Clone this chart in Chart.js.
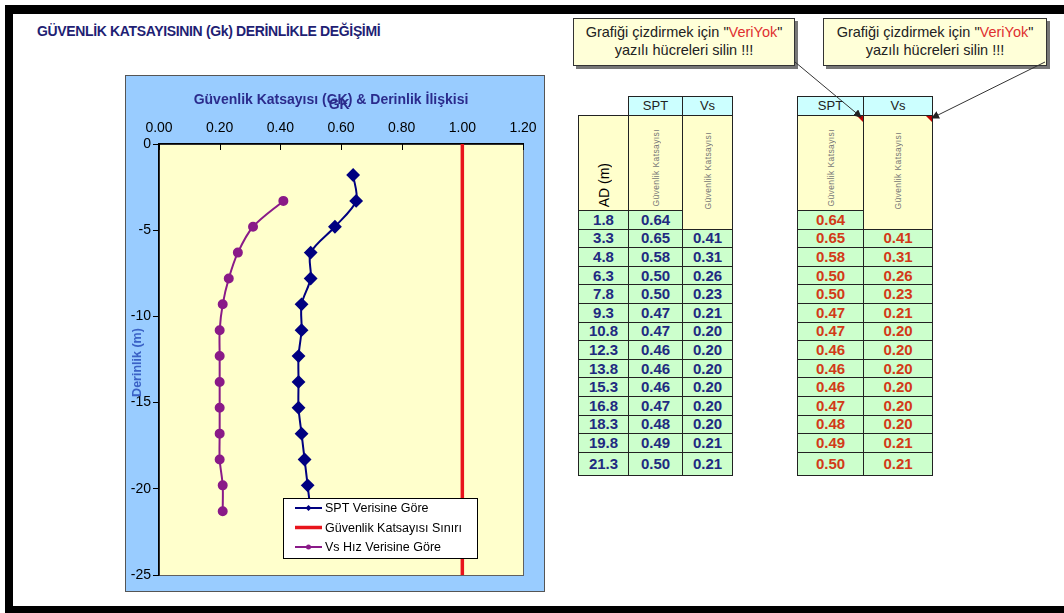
<!DOCTYPE html>
<html lang="tr">
<head>
<meta charset="UTF-8">
<title>Güvenlik Katsayısı</title>
<script src="https://cdn.jsdelivr.net/npm/chart.js"></script>
<style>
    body { margin: 0; width: 1064px; height: 613px; background: #ffffff; position: relative; overflow: hidden; font-family: "Liberation Sans", Arial, sans-serif; }
    #frame { position: absolute; left: 5px; top: 5px; width: 1100px; height: 592px; border-top: 9px solid #000; border-left: 8px solid #000; border-bottom: 8px solid #000; }
    #pageTitle { position: absolute; left: 37px; top: 23px; font-size: 14px; font-weight: bold; color: #1f1f74; letter-spacing: -0.35px; white-space: nowrap; }
    #chartBox { position: absolute; left: 125px; top: 75px; width: 420px; height: 517px; }
    .note { position: absolute; top: 18px; height: 42px; background: #ffffd8; border: 1px solid #333; box-shadow: 3px 3px 0 #777; font-size: 14.5px; line-height: 18px; text-align: center; color: #222; padding-top: 4px; }
    .note span { color: #e03030; }
    table { position: absolute; border-collapse: collapse; font-weight: bold; font-size: 15px; }
    td { border: 1px solid #222; padding: 0; text-align: center; height: 17.6px; line-height: 16px; }
    td.hd { background: #ccffff; color: #222; font-weight: normal; font-size: 13px; height: 18px; }
    td.blank { border: none; background: transparent; }
    td.yl { background: #ffffcc; vertical-align: bottom; position: relative; }
    td.dat { background: #ccffcc; }
    .rot { writing-mode: vertical-rl; transform: rotate(180deg); display: inline-block; white-space: nowrap; }
    .small { font-size: 8.5px; font-weight: normal; color: #777; padding-bottom: 5px; letter-spacing: 0.4px; }
    .tri { position: absolute; right: 0; top: 0; width: 0; height: 0; border-top: 6px solid #c00000; border-left: 6px solid transparent; }
    #leftTable td.dat { color: #1f2a80; }
    #rightTable td.dat { color: #d23a18; }
    svg { position: absolute; left: 0; top: 0; }
</style>
</head>
<body>
<div id="frame"></div>
<div id="pageTitle">GÜVENLİK KATSAYISININ (Gk) DERİNLİKLE DEĞİŞİMİ</div>
<div id="chartBox"><canvas id="gkChart" width="420" height="517"></canvas></div>

<div class="note" style="left:573px; width:220px;">Grafiği çizdirmek için "<span>VeriYok</span>"<br>yazılı hücreleri silin !!!</div>
<div class="note" style="left:823px; width:222px;">Grafiği çizdirmek için "<span>VeriYok</span>"<br>yazılı hücreleri silin !!!</div>

<table id="leftTable" style="left:578px; top:96px;"></table>
<table id="rightTable" style="left:797px; top:96px;"></table>

<svg width="1064" height="613">
    <defs>
        <marker id="arr" markerWidth="8" markerHeight="8" refX="7" refY="4" orient="auto">
            <path d="M0,0 L8,4 L0,8 z" fill="#222"></path>
        </marker>
    </defs>
    <line x1="795" y1="62" x2="861" y2="117" stroke="#333" stroke-width="1" marker-end="url(#arr)"></line>
    <line x1="1045" y1="62" x2="932" y2="118" stroke="#333" stroke-width="1" marker-end="url(#arr)"></line>
</svg>

<script>
    // values read from the sheet
    const depths = [1.8, 3.3, 4.8, 6.3, 7.8, 9.3, 10.8, 12.3, 13.8, 15.3, 16.8, 18.3, 19.8, 21.3];
    const sptGk = [0.64, 0.65, 0.58, 0.50, 0.50, 0.47, 0.47, 0.46, 0.46, 0.46, 0.47, 0.48, 0.49, 0.50];
    const vsGk = [null, 0.41, 0.31, 0.26, 0.23, 0.21, 0.20, 0.20, 0.20, 0.20, 0.20, 0.20, 0.21, 0.21];
    const limitGk = 1.0;
    const limitDepths = [0, 25];
    const seriesNames = ['SPT Verisine Göre', 'Güvenlik Katsayısı Sınırı', 'Vs Hız Verisine Göre'];
    const chartTitle = 'Güvenlik Katsayısı (GK) & Derinlik İlişkisi';
    const xTitle = 'GK';
    const yTitle = 'Derinlik (m)';

    // tables
    function buildTable(id, withDepth) {
        const t = document.getElementById(id);
        const ws = withDepth ? [50, 54, 50] : [66, 69];
        let html = '<colgroup>' + ws.map(w => `<col style="width:${w}px">`).join('') + '</colgroup>';
        html += '<tr>' + (withDepth ? '<td class="blank"></td>' : '') + '<td class="hd">SPT</td><td class="hd">Vs</td></tr>';
        html += '<tr style="height:95px">';
        if (withDepth) html += '<td class="yl"><span class="rot" style="font-size:14px;font-weight:normal;padding-bottom:6px;">AD (m)</span></td>';
        html += '<td class="yl">' + (withDepth ? '' : '<div class="tri"></div>') + '<span class="rot small">Güvenlik Katsayısı</span></td>';
        html += '<td class="yl" rowspan="2" style="vertical-align:middle">' + (withDepth ? '' : '<div class="tri"></div>') + '<span class="rot small" style="padding-bottom:0">Güvenlik Katsayısı</span></td></tr>';
        depths.forEach((d, i) => {
            const h = i === depths.length - 1 ? 'style="height:23px"' : '';
            html += `<tr ${h}>`;
            if (withDepth) html += `<td class="dat">${d.toFixed(1)}</td>`;
            html += `<td class="dat">${sptGk[i].toFixed(2)}</td>`;
            if (i > 0) html += `<td class="dat">${vsGk[i].toFixed(2)}</td>`;
            html += '</tr>';
        });
        t.innerHTML = html;
    }
    buildTable('leftTable', true);
    buildTable('rightTable', false);

    const sptPoints = depths.map((d, i) => ({ x: sptGk[i], y: -d }));
    const vsPoints = depths.map((d, i) => ({ x: vsGk[i], y: -d })).filter(p => p.x !== null);
    const limitPoints = limitDepths.map(d => ({ x: limitGk, y: -d }));

    const excelLook = {
        id: 'excelLook',
        beforeDraw(chart) {
            const ctx = chart.ctx;
            const a = chart.chartArea;
            ctx.save();
            ctx.fillStyle = '#99ccff';
            ctx.fillRect(0, 0, chart.width, chart.height);
            ctx.strokeStyle = '#555';
            ctx.lineWidth = 1;
            ctx.strokeRect(0.5, 0.5, chart.width - 1, chart.height - 1);
            ctx.fillStyle = '#ffffcc';
            ctx.fillRect(a.left, a.top, a.right - a.left, a.bottom - a.top);
            ctx.strokeStyle = '#606060';
            ctx.strokeRect(a.left + 0.5, a.top + 0.5, a.right - a.left, a.bottom - a.top);
            ctx.restore();
        },
        beforeDatasetsDraw(chart) {
            // inside tick marks on the top axis
            const ctx = chart.ctx;
            const xs = chart.scales.x;
            ctx.save();
            ctx.strokeStyle = '#000';
            ctx.lineWidth = 1;
            xs.ticks.forEach(t => {
                const px = Math.round(xs.getPixelForValue(t.value)) + 0.5;
                ctx.beginPath();
                ctx.moveTo(px, chart.chartArea.top);
                ctx.lineTo(px, chart.chartArea.top + 6);
                ctx.stroke();
            });
            ctx.restore();
        },
        afterDraw(chart) {
            const ctx = chart.ctx;
            const a = chart.chartArea;
            ctx.save();
            // chart title and the overlapping axis title
            ctx.font = 'bold 14px "Liberation Sans", Arial, sans-serif';
            ctx.fillStyle = '#2b2b8c';
            ctx.textBaseline = 'middle';
            ctx.textAlign = 'left';
            const tw = ctx.measureText(chartTitle).width;
            const tx = 206 - tw / 2;
            ctx.fillText(chartTitle, tx, 25);
            const pre = ctx.measureText('Güvenlik Katsayısı (').width;
            ctx.fillText(xTitle, tx + pre + 2, 30);
            // y axis title
            ctx.translate(13, (a.top + a.bottom) / 2 + 3);
            ctx.rotate(-Math.PI / 2);
            ctx.textAlign = 'center';
            ctx.fillStyle = '#3b62c6';
            ctx.font = 'bold 12.5px "Liberation Sans", Arial, sans-serif';
            ctx.fillText(yTitle, 0, 0);
            ctx.restore();

            // legend box
            const lx = a.left + 124, ly = a.top + 354, lw = 194, lh = 60;
            ctx.save();
            ctx.fillStyle = '#ffffff';
            ctx.fillRect(lx, ly, lw, lh);
            ctx.strokeStyle = '#000';
            ctx.lineWidth = 1;
            ctx.strokeRect(lx + 0.5, ly + 0.5, lw, lh);
            ctx.font = '12.5px "Liberation Sans", Arial, sans-serif';
            ctx.textBaseline = 'middle';
            chart.data.datasets.forEach((ds, i) => {
                const cy = ly + 10 + i * 19.5;
                ctx.strokeStyle = ds.borderColor;
                ctx.lineWidth = ds.borderWidth;
                ctx.beginPath();
                ctx.moveTo(lx + 12, cy);
                ctx.lineTo(lx + 39, cy);
                ctx.stroke();
                if (ds.pointRadius > 0) {
                    ctx.fillStyle = ds.pointBackgroundColor;
                    ctx.beginPath();
                    if (ds.pointStyle === 'rectRot') {
                        const r = 3;
                        ctx.moveTo(lx + 25.5, cy - r);
                        ctx.lineTo(lx + 25.5 + r, cy);
                        ctx.lineTo(lx + 25.5, cy + r);
                        ctx.lineTo(lx + 25.5 - r, cy);
                    } else {
                        ctx.arc(lx + 25.5, cy, 2.5, 0, Math.PI * 2);
                    }
                    ctx.fill();
                }
                ctx.fillStyle = '#000';
                ctx.fillText(ds.label, lx + 42, cy + 1);
            });
            ctx.restore();
        }
    };

    const ctx = document.getElementById('gkChart').getContext('2d');
    new Chart(ctx, {
        type: 'scatter',
        data: {
            datasets: [
                {
                    label: seriesNames[0],
                    data: sptPoints,
                    showLine: true,
                    borderColor: '#000080',
                    backgroundColor: '#000080',
                    pointBackgroundColor: '#000080',
                    pointBorderColor: '#000080',
                    pointStyle: 'rectRot',
                    pointRadius: 5.5,
                    borderWidth: 2,
                    tension: 0.3
                },
                {
                    label: seriesNames[1],
                    data: limitPoints,
                    showLine: true,
                    borderColor: '#e8141c',
                    backgroundColor: '#e8141c',
                    pointRadius: 0,
                    borderWidth: 3.5
                },
                {
                    label: seriesNames[2],
                    data: vsPoints,
                    showLine: true,
                    borderColor: '#8a1a88',
                    backgroundColor: '#8a1a88',
                    pointBackgroundColor: '#8a1a88',
                    pointBorderColor: '#8a1a88',
                    pointStyle: 'circle',
                    pointRadius: 4,
                    borderWidth: 2,
                    tension: 0.3
                }
            ]
        },
        options: {
            responsive: false,
            animation: false,
            devicePixelRatio: 1,
            layout: { padding: { left: 0, top: 0, right: 22, bottom: 17 } },
            scales: {
                x: {
                    type: 'linear',
                    position: 'top',
                    min: 0,
                    max: 1.2,
                    ticks: {
                        stepSize: 0.2,
                        padding: 7,
                        color: '#000',
                        font: { size: 14, family: '"Liberation Sans", Arial, sans-serif' },
                        callback: v => v.toFixed(2)
                    },
                    grid: { display: true, drawOnChartArea: false, drawTicks: false },
                    border: { color: '#000', width: 1.5 },
                    afterFit: s => { s.height = 69; }
                },
                y: {
                    type: 'linear',
                    min: -25,
                    max: 0,
                    ticks: {
                        stepSize: 5,
                        padding: 2,
                        color: '#000',
                        font: { size: 14, family: '"Liberation Sans", Arial, sans-serif' }
                    },
                    grid: { display: true, drawOnChartArea: false, drawTicks: true, tickLength: 6, color: '#000' },
                    border: { color: '#000', width: 1.5 },
                    afterFit: s => { s.width = 34; }
                }
            },
            plugins: {
                legend: { display: false },
                title: { display: false },
                tooltip: { enabled: false }
            }
        },
        plugins: [excelLook]
    });
</script>
</body>
</html>
